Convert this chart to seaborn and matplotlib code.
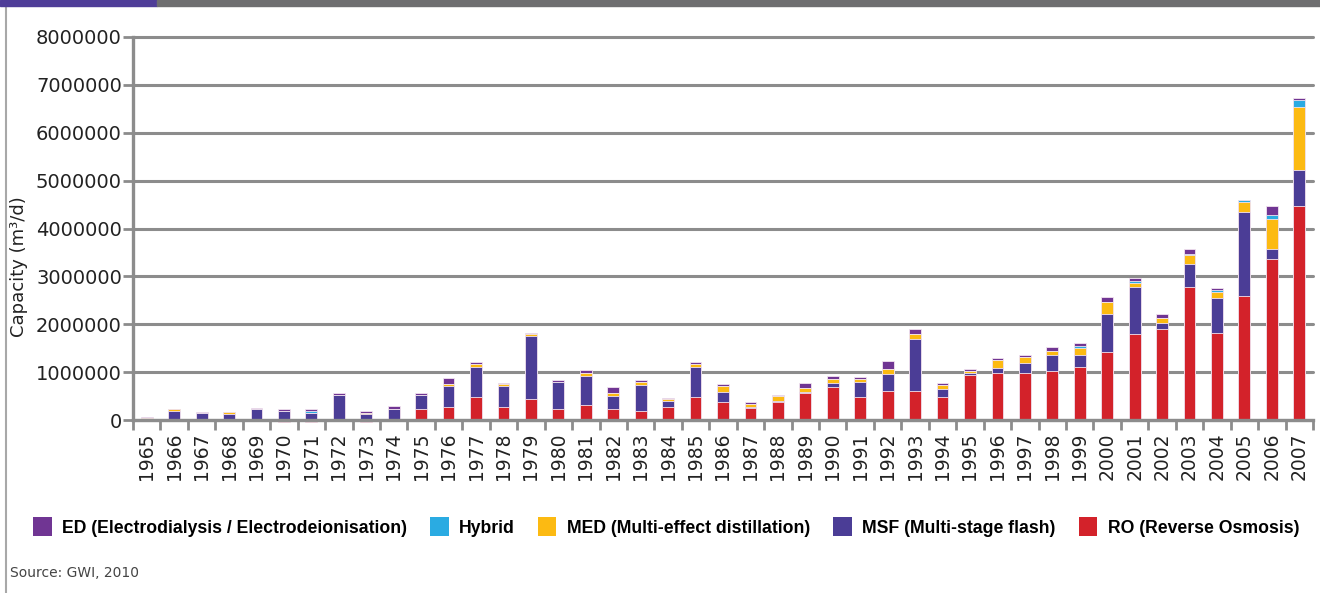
import numpy as np
import pandas as pd
import matplotlib
matplotlib.use("Agg")
import matplotlib.pyplot as plt
import seaborn as sns
from matplotlib.patches import Patch, Rectangle
from matplotlib.lines import Line2D
from matplotlib.ticker import FuncFormatter, FixedLocator
from matplotlib.font_manager import FontProperties

# ---------------- data ----------------
years = [str(y) for y in range(1965, 2008)]

ro = [0, 0, 0, 0, 0, -50000, -50000, 0, -50000, 0,
      230000, 280000, 470000, 277000, 431000, 222000, 320000, 222000, 181000, 278000,
      486000, 368000, 243000, 368000, 556000, 680000, 486000, 611000, 611000, 472000,
      944000, 986000, 972000, 1021000, 1111000, 1424000, 1792000, 1910000, 2778000, 1826000,
      2597000, 3361000, 4465000]

msf = [30000, 190000, 150000, 135000, 220000, 190000, 150000, 530000, 135000, 240000,
       300000, 440000, 630000, 440000, 1326000, 576000, 600000, 278000, 556000, 118000,
       618000, 215000, 21000, 28000, 28000, 97000, 306000, 347000, 1076000, 174000,
       42000, 90000, 229000, 333000, 243000, 785000, 986000, 118000, 486000, 729000,
       1743000, 210000, 764000]

med = [20000, 40000, 0, 35000, 0, 0, 0, 0, 20000, 0,
       0, 28000, 70000, 28000, 42000, 0, 62000, 55000, 62000, 35000,
       70000, 125000, 70000, 97000, 90000, 76000, 62000, 97000, 104000, 90000,
       42000, 187000, 118000, 97000, 153000, 257000, 83000, 97000, 180000, 125000,
       222000, 618000, 1299000]

hybrid = [0, 0, 0, 0, 0, 0, 40000, 0, 0, 0,
          0, 0, 0, 0, 0, 0, 0, 0, 0, 0,
          0, 0, 0, 0, 0, 0, 0, 0, 0, 0,
          0, 0, 0, 0, 35000, 0, 35000, 0, 28000, 35000,
          35000, 97000, 160000]

ed = [10000, 0, 20000, 0, 28000, 40000, 35000, 35000, 35000, 50000,
      35000, 125000, 35000, 20000, 28000, 35000, 70000, 125000, 35000, 35000,
      42000, 35000, 35000, 35000, 97000, 70000, 42000, 180000, 118000, 28000,
      28000, 28000, 35000, 70000, 62000, 104000, 70000, 97000, 104000, 35000,
      0, 188000, 35000]

labels = ["ED (Electrodialysis / Electrodeionisation)", "Hybrid",
          "MED (Multi-effect distillation)", "MSF (Multi-stage flash)",
          "RO (Reverse Osmosis)"]
colors = {"ED": "#703593", "Hybrid": "#2AABE2", "MED": "#FCBA12",
          "MSF": "#4B3D96", "RO": "#D3222A"}

df = pd.DataFrame({"year": years, "RO": ro, "MSF": msf, "MED": med,
                   "Hybrid": hybrid, "ED": ed})
ro_pos = df["RO"].clip(lower=0)
df["c_MSF"] = ro_pos + df["MSF"]
df["c_MED"] = df["c_MSF"] + df["MED"]
df["c_Hybrid"] = df["c_MED"] + df["Hybrid"]
df["c_ED"] = df["c_Hybrid"] + df["ED"]

# ---------------- style ----------------
sns.set_style("white")
plt.rcParams["font.family"] = ["DejaVu Sans"]

fig = plt.figure(figsize=(13.2, 5.93), dpi=100)
ax = fig.add_axes([133 / 1320, 1 - 420 / 593, (1313 - 133) / 1320, (420 - 37) / 593])

grid_c = "#8c8c8c"
bw = 0.43
edge = "#f2e4f0"
for col, key in [("c_ED", "ED"), ("c_Hybrid", "Hybrid"), ("c_MED", "MED"),
                 ("c_MSF", "MSF")]:
    sns.barplot(data=df, x="year", y=col, color=colors[key], width=bw,
                errorbar=None, saturation=1, ax=ax, edgecolor=edge, linewidth=0.6)
sns.barplot(data=df, x="year", y="RO", color=colors["RO"], width=bw,
            errorbar=None, saturation=1, ax=ax, edgecolor=edge, linewidth=0.6,
            clip_on=False)

ax.set_xlim(-0.5, len(years) - 0.5)
ax.set_ylim(0, 8000000)
ax.set_yticks(np.arange(0, 8000001, 1000000))
ax.yaxis.set_major_formatter(FuncFormatter(lambda v, p: f"{int(v)}"))
ax.yaxis.grid(True, color=grid_c, linewidth=2.2)
ax.xaxis.grid(False)
ax.set_axisbelow(True)
for gl in ax.get_ygridlines():
    gl.set_clip_on(False)

for s in ["top", "right"]:
    ax.spines[s].set_visible(False)
for s in ["left", "bottom"]:
    ax.spines[s].set_color(grid_c)
    ax.spines[s].set_linewidth(2.4)
    ax.spines[s].set_zorder(3)

ax.tick_params(axis="y", which="major", direction="out", length=7, width=2,
               color=grid_c, labelsize=14, labelcolor="#222222", pad=1, left=True)
ax.set_xticks(range(len(years)))
ax.set_xticklabels(years, rotation=90)
ax.tick_params(axis="x", which="major", length=0, labelsize=13.5,
               labelcolor="#222222", pad=9)
ax.xaxis.set_minor_locator(FixedLocator(np.arange(-0.5, len(years), 1.0)))
ax.tick_params(axis="x", which="minor", direction="out", length=7, width=2,
               color=grid_c, bottom=True)
ax.set_xlabel("")
ax.set_ylabel("Capacity (m³/d)", fontsize=13, color="#222222")
ax.yaxis.set_label_coords(-0.089, 0.40)

# ---------------- frame decorations ----------------
fig.patches.append(Rectangle((0, 1 - 6 / 593), 157 / 1320, 6 / 593,
                             transform=fig.transFigure, color="#4F3D98", zorder=5))
fig.patches.append(Rectangle((157 / 1320, 1 - 6 / 593), 1 - 157 / 1320, 6 / 593,
                             transform=fig.transFigure, color="#6E6E70", zorder=5))
fig.lines.append(Line2D([6 / 1320, 6 / 1320], [0, 1 - 6 / 593],
                        transform=fig.transFigure, color="#a8a8a8", linewidth=1.5))

# ---------------- legend ----------------
handles = [Patch(facecolor=colors[k], edgecolor="none")
           for k in ["ED", "Hybrid", "MED", "MSF", "RO"]]
leg = fig.legend(handles, labels, loc="center left",
                 bbox_to_anchor=(33 / 1320, 1 - 527 / 593), ncol=5, frameon=False,
                 prop=FontProperties(family=["Liberation Sans", "DejaVu Sans"],
                                     weight="bold", size=12.7),
                 handlelength=1.05, handleheight=1.3, handletextpad=0.6,
                 columnspacing=1.3, borderpad=0, borderaxespad=0)
for t in leg.get_texts():
    t.set_color("#000000")

fig.text(10 / 1320, 1 - 573 / 593, "Source: GWI, 2010", fontsize=10,
         color="#444444", va="center", ha="left")

fig.savefig("out.png", dpi=100)
